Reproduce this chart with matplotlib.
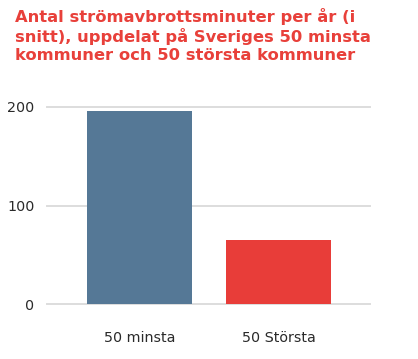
import matplotlib
matplotlib.use("Agg")
import matplotlib.pyplot as plt

categories = ["50 minsta", "50 Största"]
values = [196, 65]
colors = ["#557896", "#e83d39"]
yticks = [0, 100, 200]
title = "Antal strömavbrottsminuter per år (i\nsnitt), uppdelat på Sveriges 50 minsta\nkommuner och 50 största kommuner"

plt.rcParams['font.family'] = ['DejaVu Sans']

fig = plt.figure(figsize=(4.18, 3.59), dpi=100)
ax = fig.add_axes([47 / 418, 54.7 / 359, 323 / 418, 197.6 / 359])

x = range(len(categories))
ax.bar(x, values, width=0.755, color=colors, zorder=3)

ax.set_xlim(-0.665, 1.658)
ax.set_ylim(0, 200)
ax.set_yticks(yticks)
ax.set_xticks(list(x))
ax.set_xticklabels(categories)
ax.grid(axis='y', color='#dddddd', linewidth=1.4, zorder=0)
for gl in ax.get_ygridlines():
    gl.set_clip_on(False)
for s in ax.spines.values():
    s.set_visible(False)
ax.tick_params(axis='both', length=0, labelsize=10.3, colors='#2a2a2a')
ax.tick_params(axis='y', pad=9)
ax.tick_params(axis='x', pad=19)

fig.text(15 / 418, 1 - 8 / 359, title, color='#e8403a', fontsize=11.8, fontweight='bold',
         ha='left', va='top', linespacing=1.22)

fig.savefig("out.png", dpi=100)
